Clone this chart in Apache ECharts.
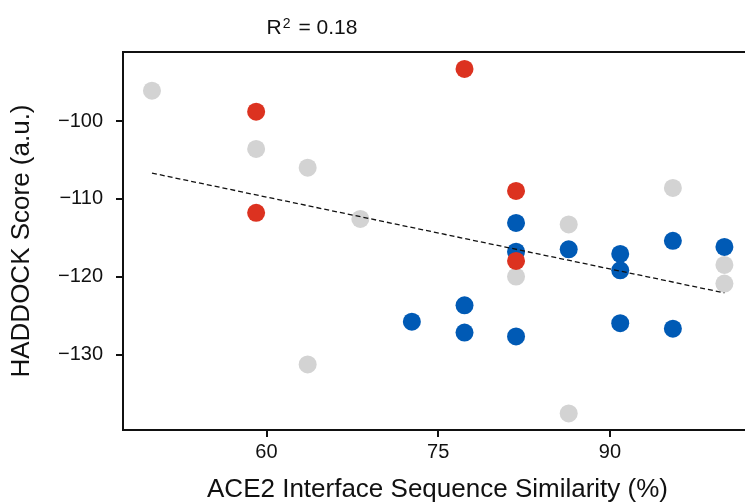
<!DOCTYPE html>
<html>
<head>
<meta charset="utf-8">
<title>HADDOCK score vs ACE2 similarity</title>
<script src="https://cdn.jsdelivr.net/npm/echarts@6/dist/echarts.min.js"></script>
<style>
  html, body { margin: 0; padding: 0; background: #fff; }
  #chart { width: 745px; height: 504px; }
</style>
</head>
<body>
<div id="chart"></div>
<script>
// points: [similarity %, HADDOCK score]
var grayPts = [[50.0,-96.1],[59.1,-103.6],[63.6,-106.0],[68.2,-112.6],[63.6,-131.3],[81.8,-120.0],
               [86.4,-113.3],[95.5,-108.6],[86.4,-137.6],[100,-118.5],[100,-120.9]];
var bluePts = [[81.8,-113.1],[81.8,-116.8],[86.4,-116.5],[90.9,-117.1],[90.9,-119.2],[95.5,-115.4],
               [100,-116.2],[77.3,-123.7],[77.3,-127.2],[81.8,-127.7],[90.9,-126.0],[95.5,-126.7],[72.7,-125.8]];
var redPts = [[59.1,-98.8],[59.1,-111.8],[77.3,-93.3],[81.8,-109.0],[81.8,-118.0]];
var fitLine = [[50,-106.7],[100,-122.1]];
var xTicks = [60, 75, 90];
var yTicks = [-130, -120, -110, -100];
var r2 = '0.18';

var font = "'Liberation Sans', Arial, sans-serif";
var chart = echarts.init(document.getElementById('chart'));

function dots(name, data, color) {
    return {
        name: name, type: 'scatter', data: data,
        symbolSize: 18,
        itemStyle: { color: color, opacity: 1 },
        emphasis: { disabled: true }
    };
}

chart.setOption({
    animation: false,
    title: {
        text: 'R{sup|2} = ' + r2,
        left: 307, top: 12, textAlign: 'center',
        textStyle: {
            fontFamily: font, fontSize: 21, fontWeight: 'normal', color: '#111',
            rich: { sup: { fontFamily: font, fontSize: 14, color: '#111', verticalAlign: 'top', padding: [0, 2, 8, 1] } }
        }
    },
    // plot box runs a little past the right edge of the canvas, like the cropped original
    grid: {
        left: 123, top: 52, height: 378, width: 629,
        outerBoundsMode: 'none',
        show: true, borderColor: '#111', borderWidth: 2
    },
    xAxis: {
        type: 'value', min: 47.47, max: 102.41,
        splitLine: { show: false },
        axisLine: { onZero: false, lineStyle: { color: '#111', width: 2 } },
        axisTick: { customValues: xTicks, length: 7, lineStyle: { color: '#111', width: 2 } },
        axisLabel: { customValues: xTicks, margin: 12, fontFamily: font, fontSize: 20, color: '#111' },
        name: 'ACE2 Interface Sequence Similarity (%)',
        nameLocation: 'middle', nameGap: 47,
        nameTextStyle: { fontFamily: font, fontSize: 26, color: '#111' }
    },
    yAxis: {
        type: 'value', min: -139.73, max: -91.13,
        splitLine: { show: false },
        axisLine: { onZero: false, lineStyle: { color: '#111', width: 2 } },
        axisTick: { customValues: yTicks, length: 7, lineStyle: { color: '#111', width: 2 } },
        axisLabel: {
            customValues: yTicks, margin: 20, fontFamily: font, fontSize: 20, color: '#111',
            formatter: function (v) { return v < 0 ? '\u2212' + Math.abs(v) : String(v); }
        },
        name: 'HADDOCK Score (a.u.)',
        nameLocation: 'middle', nameGap: 88,
        nameTextStyle: { fontFamily: font, fontSize: 26, color: '#111' }
    },
    series: [
        dots('other', grayPts, '#d3d3d3'),
        dots('blue', bluePts, '#005ab5'),
        dots('red', redPts, '#dc3220'),
        {
            name: 'fit', type: 'line', data: fitLine,
            symbol: 'none', silent: true,
            lineStyle: { color: '#111', width: 1.3, type: [5, 3] }
        }
    ]
});
</script>
</body>
</html>
